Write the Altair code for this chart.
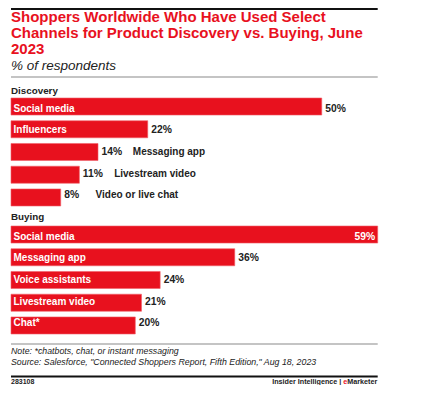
import altair as alt
import pandas as pd

title_lines = ["Shoppers Worldwide Who Have Used Select",
               "Channels for Product Discovery vs. Buying, June",
               "2023"]
subtitle = "% of respondents"

disc_labels = ["Social media", "Influencers", "Messaging app", "Livestream video", "Video or live chat"]
disc_values = [50, 22, 14, 11, 8]

buy_labels = ["Social media", "Messaging app", "Voice assistants", "Livestream video", "Chat*"]
buy_values = [59, 36, 24, 21, 20]

note_lines = ["Note: *chatbots, chat, or instant messaging",
              "Source: Salesforce, \"Connected Shoppers Report, Fifth Edition,\" Aug 18, 2023"]
chart_id = "283108"

RED = "#e8111e"
DARK = "#222222"
FONT = "Liberation Sans"

disc = pd.DataFrame({"label": disc_labels, "value": disc_values})
buy = pd.DataFrame({"label": buy_labels, "value": buy_values})

xscale = alt.Scale(domain=[0, 59], range=[3, 369.7], nice=False, zero=True)


def group(df, labels, yrange):
    ysc = alt.Scale(domain=labels, range=yrange, paddingInner=0.25, paddingOuter=0)
    y = alt.Y("label:N", scale=ysc, axis=None, sort=None)
    x = alt.X("value:Q", scale=xscale, axis=None)
    base = alt.Chart(df)
    bars = base.mark_bar(color=RED, stroke="#f06068", strokeWidth=0.6).encode(x=x, y=y)
    inside_name = base.transform_filter("datum.value >= 18").mark_text(
        align="left", baseline="middle", color="white", font=FONT, fontWeight="bold", fontSize=10
    ).encode(x=alt.value(5.5), y=y, text="label:N")
    val_out = base.transform_filter("datum.value < 55").transform_calculate(
        txt="datum.value + '%'"
    ).mark_text(align="left", baseline="middle", dx=3.5, color=DARK, font=FONT,
                fontWeight="bold", fontSize=10.3).encode(x=x, y=y, text="txt:N")
    val_in = base.transform_filter("datum.value >= 55").transform_calculate(
        txt="datum.value + '%'"
    ).mark_text(align="right", baseline="middle", dx=-2.5, color="white", font=FONT,
                fontWeight="bold", fontSize=10.3).encode(x=x, y=y, text="txt:N")
    name_out = base.transform_filter("datum.value < 18").transform_calculate(
        pos="datum.value + 5.6"
    ).mark_text(align="left", baseline="middle", color=DARK, font=FONT,
                fontWeight="bold", fontSize=10).encode(
        x=alt.X("pos:Q", scale=xscale, axis=None), y=y, text="label:N")
    return [bars, inside_name, val_out, val_in, name_out]


one = pd.DataFrame({"a": [0]})


def txt(s, x, y, size, color=DARK, weight="normal", style="normal", align="left"):
    return alt.Chart(one).mark_text(
        align=align, baseline="alphabetic", font=FONT, fontSize=size, color=color,
        fontWeight=weight, fontStyle=style
    ).encode(x=alt.value(x), y=alt.value(y), text=alt.value(s))


def hline(y, color, w):
    return alt.Chart(one).mark_rule(color=color, strokeWidth=w).encode(
        x=alt.value(3), x2=alt.value(369.7), y=alt.value(y))


layers = []
layers.append(hline(1, "#111111", 2))
for i, line in enumerate(title_lines):
    layers.append(txt(line, 3, 13.5 + 16 * i, 15, color=RED, weight="bold"))
layers.append(txt(subtitle, 3, 62, 13.5, style="italic"))
layers.append(hline(69, "#b0b0b0", 1.5))
layers.append(txt("Discovery", 3, 86, 9.8, weight="bold"))
layers += group(disc, disc_labels, [90, 198])
layers.append(txt("Buying", 3, 212, 9.8, weight="bold"))
layers += group(buy, buy_labels, [218, 326])
layers.append(hline(336, "#b0b0b0", 1.5))
layers.append(txt(note_lines[0], 3, 346, 8.8, style="italic"))
layers.append(txt(note_lines[1], 3, 356.5, 8.8, style="italic"))
layers.append(hline(368.5, "#111111", 2))
layers.append(txt(chart_id, 3, 376, 7, weight="bold"))
layers.append(txt("Insider Intelligence |", 333.3, 376, 7.2, weight="bold", align="right"))
layers.append(txt("e", 339.3, 376, 7.2, color=RED, weight="bold", align="right"))
layers.append(txt("Marketer", 369.3, 376, 7.2, weight="bold", align="right"))

chart = alt.layer(*layers).resolve_scale(y="independent").properties(
    width=408, height=377, autosize=alt.AutoSizeParams(type="none"), padding=0
).configure_view(stroke=None)

chart.save("out.html", embed_options={"renderer": "svg", "actions": False})
